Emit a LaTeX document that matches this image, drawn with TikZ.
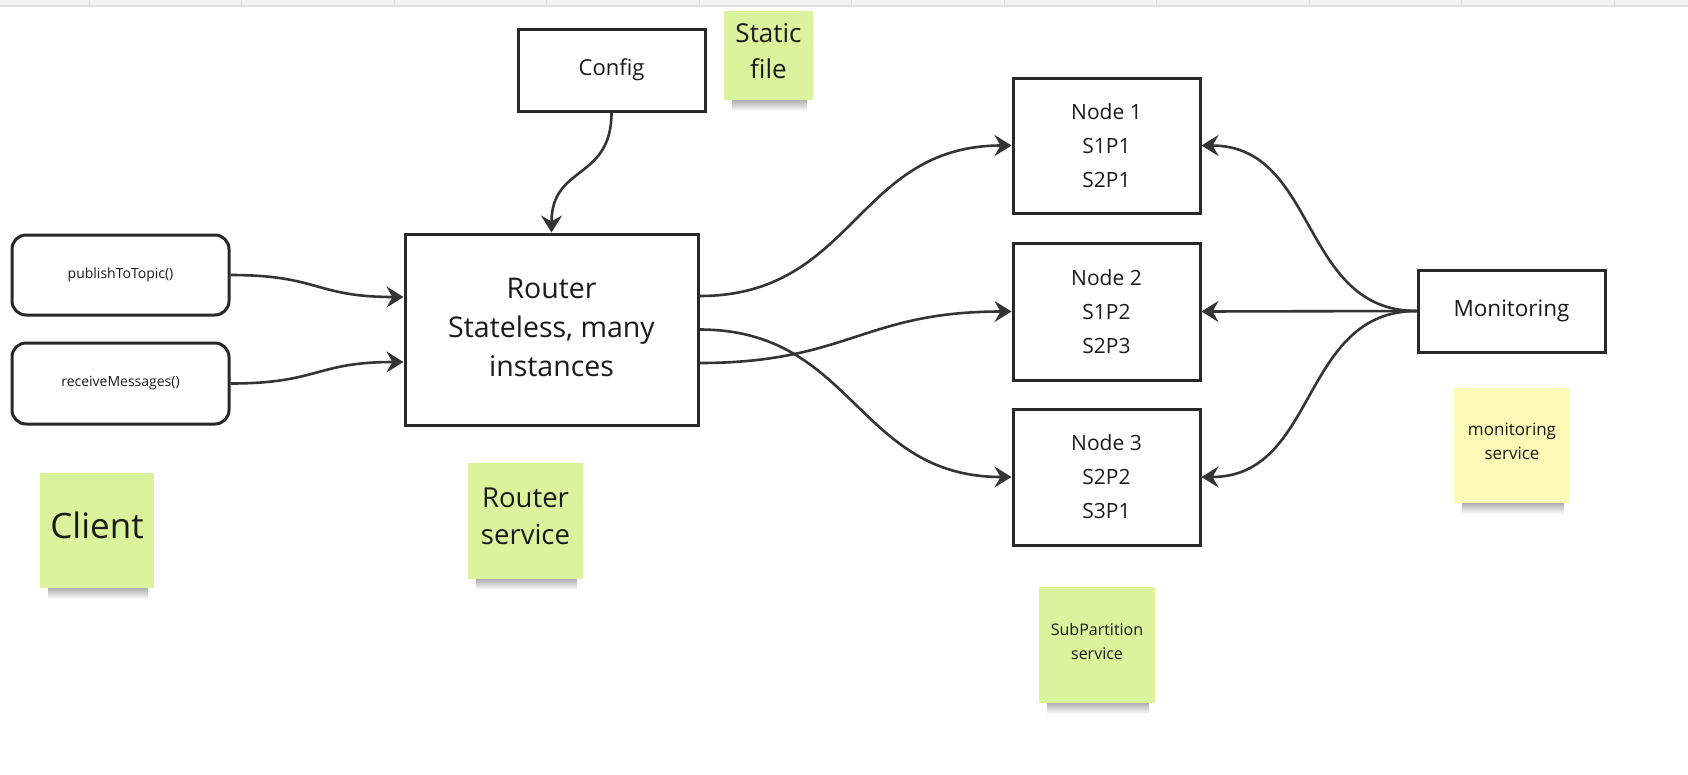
\documentclass[tikz,border=0pt]{standalone}
\usepackage{fontspec}
\setmainfont{Open Sans}
\usetikzlibrary{arrows.meta,fadings}
\definecolor{stickygreen}{RGB}{220,243,157}
\definecolor{stickyyellow}{RGB}{254,249,182}
\definecolor{inkline}{RGB}{40,40,40}
\definecolor{arrowink}{RGB}{52,52,52}
\definecolor{textink}{RGB}{26,26,26}
\definecolor{topbar}{RGB}{242,242,242}
\definecolor{topline}{RGB}{224,224,224}
\tikzset{
  box/.style={draw=inkline, line width=3pt, fill=white, text=textink, align=center, inner sep=0pt},
  rbox/.style={box, rounded corners=14pt},
  stickynote/.style={fill=#1, draw=none, inner sep=0pt},
  stickytext/.style={text=textink, align=center, inner sep=0pt},
  conn/.style={draw=arrowink, line width=2.6pt, -{Stealth[length=17pt,width=21pt,inset=6pt]}},
}
\newcommand{\fs}[2]{\fontsize{#1}{#2}\selectfont}
\begin{document}
\begin{tikzpicture}[x=1pt,y=-1pt]
\useasboundingbox (0,0) rectangle (1688,774);
\fill[white] (0,0) rectangle (1688,774);
% top bar
\fill[topbar] (0,0) rectangle (1688,5);
\fill[topline] (0,5) rectangle (1688,7);
\foreach \k in {0,...,10} {\draw[topline, line width=1pt] ({89+152.5*\k},0) -- ({89+152.5*\k},5);}

% sticky shadows
\foreach \xa/\xb/\yb in {724/813/100, 40/154/588, 468/583/579, 1454/1570/503, 1039/1155/703} {
  \fill[black, opacity=0.4, path fading=south] (\xa+8,\yb-3) rectangle (\xb-6,\yb+11);
}

% stickies
\node[stickynote=stickygreen, minimum width=89pt, minimum height=89pt] (staticnote) at (768.5,55.5) {};
\node[stickytext, font=\fs{26}{36}] (static) at ([yshift=4pt]staticnote.center) {Static\\file};
\node[stickynote=stickygreen, minimum width=114pt, minimum height=115pt] (clientnote) at (97,530.5) {};
\node[stickytext, font=\fs{35}{42}] (client) at ([yshift=5pt]clientnote.center) {Client};
\node[stickynote=stickygreen, minimum width=115pt, minimum height=116pt] (routersvcnote) at (525.5,521) {};
\node[stickytext, font=\fs{27.5}{37}] (routersvc) at ([yshift=5pt]routersvcnote.center) {Router\\service};
\node[stickynote=stickyyellow, minimum width=116pt, minimum height=115pt] (monsvcnote) at (1512,445.5) {};
\node[stickytext, font=\fs{17}{24}] (monsvc) at ([yshift=4pt]monsvcnote.center) {monitoring\\service};
\node[stickynote=stickygreen, minimum width=116pt, minimum height=116pt] (subsvcnote) at (1097,645) {};
\node[stickytext, font=\fs{16}{24}] (subsvc) at ([yshift=4pt]subsvcnote.center) {SubPartition\\service};

% boxes
\node[box, minimum width=187pt, minimum height=82pt, font=\fs{22}{30}] (config) at (611.5,70) {Config};
\node[box, minimum width=293pt, minimum height=191pt] (router) at (551.5,329.5) {};
\node[stickytext, font=\fs{28.5}{39}] (routertext) at ([yshift=2pt]router.center) {Router\\Stateless, many\\instances};
\node[rbox, minimum width=217pt, minimum height=80pt, font=\fs{14}{18}] (pub) at (120.5,275) {publishToTopic()};
\node[rbox, minimum width=217pt, minimum height=81pt, font=\fs{14}{18}] (recv) at (120.5,383.5) {receiveMessages()};
\node[box, minimum width=187pt, minimum height=135pt, font=\fs{21}{34}] (node1) at (1106.5,145.5) {Node 1\\S1P1\\S2P1};
\node[box, minimum width=187pt, minimum height=137pt, font=\fs{21}{34}] (node2) at (1106.5,311.5) {Node 2\\S1P2\\S2P3};
\node[box, minimum width=187pt, minimum height=136pt, font=\fs{21}{34}] (node3) at (1106.5,477) {Node 3\\S2P2\\S3P1};
\node[box, minimum width=187pt, minimum height=82pt, font=\fs{22.5}{30}] (mon) at (1511.5,311) {Monitoring};

% connectors
\draw[conn] (config.south) to[out=-90,in=90,looseness=1.3] (router.north);
\draw[conn] (pub.east) to[out=0,in=180,looseness=1.3] ([yshift=32.5pt]router.west);
\draw[conn] (recv.east) to[out=0,in=180,looseness=1.3] ([yshift=-32.5pt]router.west);
\draw[conn] ([yshift=33.5pt]router.east) to[out=0,in=180,looseness=1.15] (node1.west);
\draw[conn] ([yshift=-33.5pt]router.east) to[out=0,in=180,looseness=1.2] (node2.west);
\draw[conn] (router.east) to[out=0,in=180,looseness=1.15] (node3.west);
\draw[conn] (mon.west) to[out=180,in=0,looseness=1.1] (node1.east);
\draw[conn] (mon.west) -- (node2.east);
\draw[conn] (mon.west) to[out=180,in=0,looseness=1.1] (node3.east);
\end{tikzpicture}
\end{document}
